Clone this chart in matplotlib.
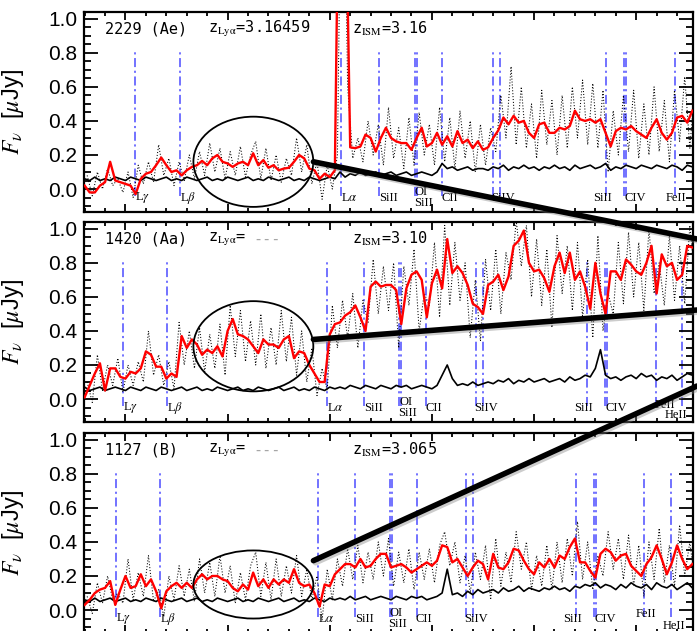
import numpy as np
import matplotlib.pyplot as plt
from matplotlib.patches import Ellipse, ConnectionPatch
from matplotlib.ticker import MultipleLocator
import matplotlib.patheffects as pe

plt.rcParams['font.family'] = ['Liberation Sans', 'DejaVu Sans']
plt.rcParams['mathtext.fontset'] = 'stix'

# observed-frame wavelength bins (Angstrom)
wave = 3800.0 + 25.0 * np.arange(120)
wave_raw = wave + 12.5

ids = ['2229 (Ae)', '1420 (Aa)', '1127 (B)']
z_lya = ['3.16459', None, None]
z_ism = [3.16, 3.10, 3.065]
z_ism_txt = ['3.16', '3.10', '3.065']

# smoothed spectra (uJy)
smooth_2229 = [
    0.02, -0.02, -0.02, 0.02, 0.04, 0.16, 0.05, 0.04, 0.03, 0.02,
    -0.03, 0.06, 0.09, 0.10, 0.14, 0.185, 0.14, 0.10, 0.11, 0.08,
    0.11, 0.13, 0.14, 0.165, 0.14, 0.18, 0.20, 0.16, 0.15, 0.13,
    0.15, 0.16, 0.14, 0.21, 0.14, 0.17, 0.125, 0.14, 0.11, 0.12,
    0.125, 0.16, 0.20, 0.18, 0.12, 0.11, 0.06, 0.09, 0.07, 0.11,
    2.50, 2.00, 0.245, 0.24, 0.25, 0.32, 0.30, 0.22, 0.30, 0.36,
    0.30, 0.28, 0.27, 0.27, 0.23, 0.30, 0.36, 0.25, 0.27, 0.33,
    0.26, 0.31, 0.25, 0.34, 0.27, 0.29, 0.24, 0.28, 0.23, 0.245,
    0.30, 0.345, 0.42, 0.38, 0.43, 0.39, 0.40, 0.33, 0.30, 0.38,
    0.39, 0.33, 0.33, 0.36, 0.35, 0.37, 0.46, 0.41, 0.40, 0.41,
    0.39, 0.41, 0.33, 0.25, 0.34, 0.36, 0.35, 0.37, 0.34, 0.32,
    0.30, 0.36, 0.41, 0.33, 0.29, 0.33, 0.42, 0.43, 0.39, 0.46]
smooth_1420 = [
    0.01, 0.08, 0.15, 0.21, 0.05, 0.18, 0.18, 0.13, 0.12, 0.16,
    0.15, 0.18, 0.28, 0.26, 0.19, 0.19, 0.12, 0.15, 0.13, 0.37,
    0.30, 0.35, 0.32, 0.26, 0.29, 0.27, 0.31, 0.25, 0.40, 0.47,
    0.38, 0.37, 0.35, 0.31, 0.27, 0.35, 0.32, 0.32, 0.30, 0.35,
    0.37, 0.24, 0.28, 0.27, 0.20, 0.15, 0.10, 0.10, 0.38, 0.44,
    0.45, 0.49, 0.51, 0.55, 0.48, 0.40, 0.66, 0.69, 0.66, 0.67,
    0.67, 0.64, 0.44, 0.65, 0.73, 0.75, 0.70, 0.48, 0.68, 0.76,
    0.65, 0.94, 0.74, 0.78, 0.74, 0.67, 0.56, 0.54, 0.50, 0.67,
    0.69, 0.73, 0.64, 0.72, 0.90, 0.93, 0.99, 0.80, 0.75, 0.76,
    0.71, 0.63, 0.78, 0.86, 0.74, 0.86, 0.70, 0.75, 0.66, 0.53,
    0.80, 0.62, 0.50, 0.75, 0.75, 0.70, 0.82, 0.79, 0.75, 0.73,
    0.80, 0.90, 0.62, 0.85, 0.78, 0.80, 0.70, 0.73, 0.90, 0.89]
smooth_1127 = [
    0.03, 0.06, 0.10, 0.12, 0.13, 0.17, 0.03, 0.12, 0.20, 0.13,
    0.14, 0.21, 0.14, 0.18, 0.11, 0.01, 0.11, 0.14, 0.16, 0.13,
    0.16, 0.13, 0.18, 0.21, 0.18, 0.20, 0.20, 0.18, 0.17, 0.13,
    0.11, 0.15, 0.12, 0.22, 0.14, 0.18, 0.13, 0.18, 0.15, 0.18,
    0.16, 0.24, 0.16, 0.14, 0.15, 0.10, 0.02, 0.15, 0.14, 0.21,
    0.24, 0.27, 0.27, 0.25, 0.30, 0.25, 0.26, 0.30, 0.33, 0.33,
    0.25, 0.26, 0.27, 0.25, 0.22, 0.24, 0.26, 0.28, 0.26, 0.29,
    0.38, 0.37, 0.28, 0.30, 0.25, 0.20, 0.25, 0.29, 0.27, 0.18,
    0.33, 0.25, 0.24, 0.28, 0.36, 0.35, 0.29, 0.24, 0.21, 0.28,
    0.25, 0.30, 0.25, 0.32, 0.30, 0.37, 0.42, 0.28, 0.28, 0.23,
    0.19, 0.33, 0.36, 0.34, 0.29, 0.32, 0.33, 0.26, 0.23, 0.20,
    0.27, 0.31, 0.38, 0.30, 0.21, 0.28, 0.38, 0.30, 0.24, 0.27]

# unsmoothed spectra
raw_2229 = [
    0.08, -0.04, 0.10, 0.00, 0.12, 0.02, 0.06, -0.02, 0.10, -0.05,
    0.14, 0.03, 0.16, 0.04, 0.26, 0.08, 0.18, 0.02, 0.16, 0.05,
    0.20, 0.06, 0.22, 0.08, 0.27, 0.10, 0.24, 0.06, 0.22, 0.08,
    0.25, 0.07, 0.20, 0.28, 0.06, 0.24, 0.05, 0.20, 0.04, 0.18,
    0.08, 0.30, 0.10, 0.26, 0.03, 0.16, -0.06, 0.14, 0.00, 0.20,
    2.60, 0.60, 0.18, 0.30, 0.16, 0.40, 0.20, 0.38, 0.14, 0.48,
    0.18, 0.36, 0.12, 0.42, 0.14, 0.45, 0.20, 0.38, 0.14, 0.48,
    0.16, 0.42, 0.12, 0.46, 0.18, 0.40, 0.10, 0.38, 0.14, 0.36,
    0.22, 0.55, 0.30, 0.72, 0.26, 0.60, 0.24, 0.50, 0.18, 0.58,
    0.26, 0.52, 0.20, 0.55, 0.24, 0.60, 0.30, 0.64, 0.26, 0.62,
    0.24, 0.58, 0.10, 0.46, 0.20, 0.55, 0.22, 0.58, 0.18, 0.50,
    0.20, 0.60, 0.22, 0.52, 0.16, 0.58, 0.28, 0.66, 0.24, 0.62]
raw_1420 = [
    0.10, -0.02, 0.26, 0.05, 0.20, 0.08, 0.24, 0.04, 0.20, 0.08,
    0.22, 0.10, 0.40, 0.14, 0.26, 0.08, 0.22, 0.06, 0.45, 0.20,
    0.40, 0.18, 0.42, 0.16, 0.38, 0.18, 0.44, 0.14, 0.55, 0.25,
    0.52, 0.22, 0.46, 0.20, 0.50, 0.18, 0.42, 0.20, 0.52, 0.22,
    0.48, 0.14, 0.40, 0.10, 0.30, 0.02, 0.18, 0.05, 0.55, 0.30,
    0.58, 0.36, 0.62, 0.30, 0.58, 0.45, 0.82, 0.50, 0.78, 0.52,
    0.80, 0.30, 0.78, 0.55, 0.88, 0.40, 0.62, 0.55, 0.92, 0.48,
    1.02, 0.55, 0.92, 0.58, 0.80, 0.36, 0.70, 0.34, 0.82, 0.52,
    0.88, 0.50, 0.86, 0.70, 1.05, 0.78, 1.02, 0.60, 0.94, 0.55,
    0.88, 0.42, 0.96, 0.62, 0.90, 0.52, 0.92, 0.48, 0.82, 0.36,
    0.96, 0.40, 0.62, 0.50, 0.92, 0.56, 0.98, 0.60, 0.92, 0.52,
    1.00, 0.62, 0.80, 0.55, 0.96, 0.58, 0.90, 0.56, 1.02, 0.70]
raw_1127 = [
    0.08, -0.02, 0.16, 0.04, 0.20, 0.06, 0.10, 0.04, 0.30, 0.06,
    0.22, 0.08, 0.32, 0.05, 0.12, -0.04, 0.20, 0.06, 0.26, 0.08,
    0.24, 0.05, 0.30, 0.10, 0.28, 0.08, 0.32, 0.10, 0.26, 0.04,
    0.22, 0.06, 0.26, 0.34, 0.08, 0.28, 0.06, 0.30, 0.08, 0.26,
    0.10, 0.32, 0.08, 0.24, 0.06, 0.20, -0.06, 0.24, 0.06, 0.30,
    0.14, 0.36, 0.18, 0.38, 0.16, 0.34, 0.18, 0.40, 0.20, 0.42,
    0.14, 0.34, 0.16, 0.36, 0.12, 0.34, 0.18, 0.36, 0.16, 0.38,
    0.46, 0.26, 0.40, 0.16, 0.32, 0.10, 0.34, 0.18, 0.38, 0.06,
    0.42, 0.14, 0.34, 0.16, 0.46, 0.24, 0.40, 0.12, 0.32, 0.14,
    0.38, 0.12, 0.40, 0.16, 0.42, 0.20, 0.52, 0.18, 0.40, 0.12,
    0.32, 0.20, 0.46, 0.24, 0.42, 0.18, 0.44, 0.14, 0.38, 0.08,
    0.40, 0.18, 0.48, 0.16, 0.38, 0.14, 0.50, 0.20, 0.40, 0.16]

# 1-sigma noise spectra
noise_2229 = [
    0.06, 0.05, 0.07, 0.05, 0.06, 0.05, 0.07, 0.06, 0.05, 0.07,
    0.06, 0.05, 0.07, 0.06, 0.05, 0.06, 0.07, 0.05, 0.06, 0.05,
    0.07, 0.06, 0.05, 0.06, 0.07, 0.05, 0.06, 0.05, 0.07, 0.06,
    0.05, 0.06, 0.07, 0.05, 0.06, 0.05, 0.07, 0.06, 0.05, 0.06,
    0.07, 0.05, 0.06, 0.05, 0.07, 0.06, 0.05, 0.06, 0.07, 0.06,
    0.10, 0.07, 0.09, 0.08, 0.10, 0.08, 0.09, 0.10, 0.08, 0.09,
    0.10, 0.08, 0.09, 0.10, 0.08, 0.09, 0.10, 0.09, 0.08, 0.10,
    0.15, 0.12, 0.13, 0.11, 0.12, 0.13, 0.11, 0.12, 0.12, 0.11,
    0.13, 0.12, 0.14, 0.11, 0.13, 0.12, 0.14, 0.12, 0.13, 0.11,
    0.13, 0.12, 0.14, 0.12, 0.13, 0.11, 0.14, 0.12, 0.13, 0.14,
    0.12, 0.13, 0.15, 0.11, 0.13, 0.12, 0.14, 0.13, 0.12, 0.14,
    0.13, 0.12, 0.14, 0.13, 0.12, 0.14, 0.13, 0.11, 0.14, 0.13]
noise_1420 = [
    0.07, 0.05, 0.06, 0.07, 0.05, 0.06, 0.07, 0.06, 0.05, 0.07,
    0.06, 0.05, 0.07, 0.06, 0.05, 0.07, 0.06, 0.05, 0.06, 0.07,
    0.05, 0.06, 0.07, 0.05, 0.06, 0.05, 0.07, 0.06, 0.05, 0.06,
    0.07, 0.05, 0.06, 0.05, 0.07, 0.06, 0.05, 0.06, 0.07, 0.05,
    0.06, 0.07, 0.05, 0.06, 0.05, 0.07, 0.06, 0.05, 0.07, 0.06,
    0.07, 0.06, 0.08, 0.07, 0.06, 0.08, 0.07, 0.06, 0.08, 0.07,
    0.06, 0.08, 0.07, 0.08, 0.06, 0.07, 0.08, 0.07, 0.06, 0.08,
    0.14, 0.20, 0.12, 0.08, 0.09, 0.08, 0.10, 0.08, 0.09, 0.10,
    0.09, 0.11, 0.10, 0.12, 0.09, 0.11, 0.10, 0.12, 0.10, 0.11,
    0.12, 0.10, 0.11, 0.12, 0.10, 0.13, 0.11, 0.12, 0.14, 0.13,
    0.18, 0.29, 0.14, 0.12, 0.13, 0.11, 0.13, 0.14, 0.12, 0.15,
    0.13, 0.14, 0.11, 0.13, 0.12, 0.14, 0.11, 0.13, 0.15, 0.14]
noise_1127 = [
    0.06, 0.05, 0.07, 0.05, 0.06, 0.07, 0.05, 0.06, 0.07, 0.05,
    0.06, 0.05, 0.07, 0.06, 0.05, 0.07, 0.06, 0.05, 0.06, 0.07,
    0.05, 0.06, 0.07, 0.05, 0.06, 0.05, 0.07, 0.06, 0.05, 0.06,
    0.07, 0.05, 0.06, 0.05, 0.07, 0.06, 0.05, 0.06, 0.07, 0.05,
    0.06, 0.07, 0.05, 0.06, 0.05, 0.07, 0.06, 0.05, 0.07, 0.06,
    0.07, 0.06, 0.08, 0.06, 0.07, 0.08, 0.06, 0.07, 0.08, 0.07,
    0.06, 0.08, 0.07, 0.06, 0.08, 0.07, 0.08, 0.06, 0.07, 0.08,
    0.10, 0.24, 0.09, 0.10, 0.08, 0.11, 0.09, 0.12, 0.10, 0.11,
    0.12, 0.10, 0.13, 0.11, 0.12, 0.14, 0.11, 0.13, 0.12, 0.11,
    0.13, 0.12, 0.14, 0.12, 0.13, 0.11, 0.14, 0.13, 0.15, 0.14,
    0.16, 0.13, 0.15, 0.14, 0.12, 0.15, 0.13, 0.16, 0.14, 0.13,
    0.15, 0.12, 0.16, 0.14, 0.13, 0.15, 0.12, 0.14, 0.16, 0.13]

smooth = [smooth_2229, smooth_1420, smooth_1127]
raw = [raw_2229, raw_1420, raw_1127]
noise = [noise_2229, noise_1420, noise_1127]

# rest-frame features marked in every panel
line_rest = [972.54, 1025.72, 1215.67, 1260.42, 1302.17, 1304.37, 1334.53,
             1393.76, 1402.77, 1526.71, 1548.20, 1550.78, 1608.45, 1640.42]
label_text = ['L$\\gamma$', 'L$\\beta$', 'L$\\alpha$', 'SiII', 'OI', 'SiII',
              'CII', 'SiIV', 'SiII', 'CIV', 'FeII', 'HeII']
label_rest = [972.54, 1025.72, 1215.67, 1260.42, 1302.17, 1304.37,
              1334.53, 1393.76, 1526.71, 1548.20, 1608.45, 1640.42]

# label placement: (pixel shift, y) per label
label_y = [-0.05, -0.05, -0.05, -0.05, -0.015, -0.085, -0.05, -0.05,
           -0.05, -0.05, -0.05, -0.095]
label_dx = [0, 0, 0, 0, 0, -3, -1, -2, -13, 0, -10, -8]
feii_dx = [-10, -1, -8]
feii_y = [-0.05, -0.035, -0.025]
heii_dx = [-8, -18, -8]

W, H = 697, 631
fig = plt.figure(figsize=(W / 100, H / 100), dpi=100)
tops = [12, 222, 433]
axes = []
for k in range(3):
    ax = fig.add_axes([84 / W, 1 - (tops[k] + 200) / H, 609 / W, 200 / H])
    axes.append(ax)
    zs = z_ism[k]

    for lr in line_rest:
        ax.plot([lr * (1 + zs)] * 2, [-0.04, 0.82], color=(0.3, 0.3, 1.0),
                lw=1.3, alpha=0.85, ls=(0, (5, 2, 1.2, 2)), zorder=1)

    ax.plot(wave_raw, raw[k], color='k', lw=0.75, ls=(0, (1, 1.8)), zorder=2)
    ax.plot(wave, noise[k], color='k', lw=1.2, zorder=3)
    ax.plot(wave, smooth[k], color='red', lw=1.7, zorder=4)

    for j, (txt, lr) in enumerate(zip(label_text, label_rest)):
        x = lr * (1 + zs)
        if x > 6770:
            continue
        dx, y = label_dx[j], label_y[j]
        if txt == 'FeII':
            dx, y = feii_dx[k], feii_y[k]
        if txt == 'HeII':
            dx = heii_dx[k]
        ax.annotate(txt, xy=(x, y), xytext=(dx * 0.72, 0),
                    textcoords='offset points', ha='left', va='center',
                    fontsize=9, family='Liberation Serif', zorder=5)

    ax.text(0.034, 0.915, ids[k], transform=ax.transAxes, fontsize=11,
            family='DejaVu Sans Mono', va='center')
    if z_lya[k] is not None:
        ax.text(0.203, 0.915, 'z$_{\\rm Ly\\alpha}$=' + z_lya[k],
                transform=ax.transAxes, fontsize=11,
                family='DejaVu Sans Mono', va='center')
    else:
        ax.text(0.203, 0.915, 'z$_{\\rm Ly\\alpha}$=', transform=ax.transAxes,
                fontsize=11, family='DejaVu Sans Mono', va='center')
        ax.text(0.278, 0.915, '---', transform=ax.transAxes, fontsize=11,
                family='DejaVu Sans Mono', va='center', color='0.65')
    ax.text(0.44, 0.915, 'z$_{\\rm ISM}$=' + z_ism_txt[k],
            transform=ax.transAxes, fontsize=11, family='DejaVu Sans Mono',
            va='center')

    ax.set_xlim(3797, 6778)
    ax.set_ylim(-0.135, 1.04)
    ax.xaxis.set_major_locator(MultipleLocator(500))
    ax.xaxis.set_minor_locator(MultipleLocator(100))
    ax.yaxis.set_major_locator(MultipleLocator(0.2))
    ax.yaxis.set_minor_locator(MultipleLocator(0.05))
    ax.tick_params(which='both', direction='in', top=True, right=True,
                   width=1.3, labelbottom=False)
    ax.tick_params(axis='x', which='major', length=6)
    ax.tick_params(axis='x', which='minor', length=3)
    ax.tick_params(axis='y', which='major', length=10, labelsize=15, pad=5)
    ax.tick_params(axis='y', which='minor', length=5)
    for s in ax.spines.values():
        s.set_linewidth(1.6)
    ax.set_ylabel('$F_\\nu$  [$\\mu$Jy]', fontsize=17)
    ax.yaxis.set_label_coords(-0.095, 0.5)

# zoom ellipses around the Ly-forest continuum
ell_y = [0.16, 0.31, 0.15]
ell_h = [0.53, 0.53, 0.40]
for k, ax in enumerate(axes):
    ax.add_patch(Ellipse((4626, ell_y[k]), 587, ell_h[k], fill=False,
                         lw=1.3, color='k', clip_on=False, zorder=6))

shadow = [pe.SimpleLineShadow(offset=(1.5, -1.5), shadow_color='0.5', alpha=0.4),
          pe.Normal()]
starts = [(4920, 0.16), (4920, 0.35), (4920, 0.29)]
ends = [(1.0, 1 - 239 / H), (1.0, 1 - 310 / H), (1.0, 1 - 386 / H)]
for k, ax in enumerate(axes):
    con = ConnectionPatch(xyA=starts[k], coordsA=ax.transData,
                          xyB=ends[k], coordsB=fig.transFigure,
                          color='k', lw=4, zorder=10)
    con.set_path_effects(shadow)
    fig.add_artist(con)

fig.savefig('out.png', dpi=100)
